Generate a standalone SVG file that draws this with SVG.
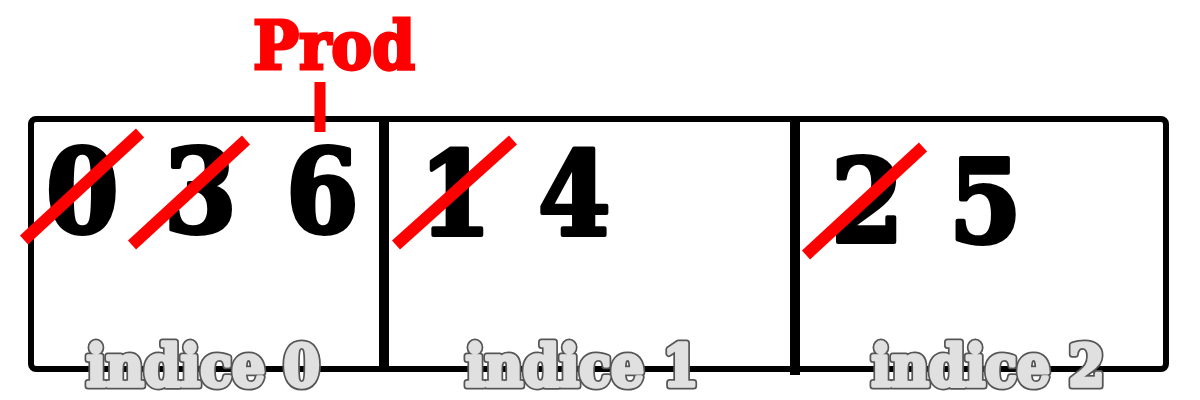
<svg xmlns="http://www.w3.org/2000/svg" width="1200" height="400" viewBox="0 0 1200 400">
<style>
.box{fill:none;stroke:#000;stroke-width:6;stroke-linejoin:round}
.div{stroke:#000;stroke-width:10}
.num{font-family:"DejaVu Serif",serif;font-stretch:condensed;font-weight:bold;font-size:116px;fill:#000;stroke:#000;stroke-width:4;stroke-linejoin:round}
.strike{stroke:#ff0000;stroke-width:12}
.lbl{font-family:"DejaVu Serif",serif;font-stretch:condensed;font-weight:bold;font-size:58px;text-anchor:middle;stroke-linejoin:round}
.lo{fill:#555;stroke:#555;stroke-width:7}
.li{fill:#e0e0e0;stroke:#e0e0e0;stroke-width:3.5}
.prod{font-family:"DejaVu Serif",serif;font-stretch:condensed;font-weight:bold;font-size:68px;fill:#ff0000;stroke:#ff0000;stroke-width:3;text-anchor:middle}
</style>
<rect width="1200" height="400" fill="#fff"/>
<g id="array">
<rect class="box" x="31" y="119" width="1135" height="250" rx="5"/>
<line class="div" x1="384" y1="120" x2="384" y2="368"/>
<line class="div" x1="795" y1="120" x2="795" y2="375"/>
</g>
<g id="cell0">
<text class="num" x="46" y="232">0</text>
<text class="num" x="164" y="232">3</text>
<text class="num" x="286" y="232">6</text>
<text class="lbl lo" x="203" y="386">indice 0</text>
<text class="lbl li" x="203" y="386">indice 0</text>
</g>
<g id="cell1">
<text class="num" x="419" y="235">1</text>
<text class="num" x="538" y="235">4</text>
<text class="lbl lo" x="582" y="386">indice 1</text>
<text class="lbl li" x="582" y="386">indice 1</text>
</g>
<g id="cell2">
<text class="num" x="831" y="242">2</text>
<text class="num" x="949" y="242">5</text>
<text class="lbl lo" x="988" y="386">indice 2</text>
<text class="lbl li" x="988" y="386">indice 2</text>
</g>
<g id="prod">
<text class="prod" x="334" y="69">Prod</text>
<line x1="320" y1="82" x2="320" y2="132" stroke="#ff0000" stroke-width="11"/>
</g>
<g id="connectors">
<line class="strike" x1="24" y1="240" x2="140" y2="133"/>
<line class="strike" x1="132" y1="245" x2="246" y2="140"/>
<line class="strike" x1="396" y1="245" x2="513" y2="140"/>
<line class="strike" x1="806" y1="255" x2="923" y2="147"/>
</g>
</svg>
